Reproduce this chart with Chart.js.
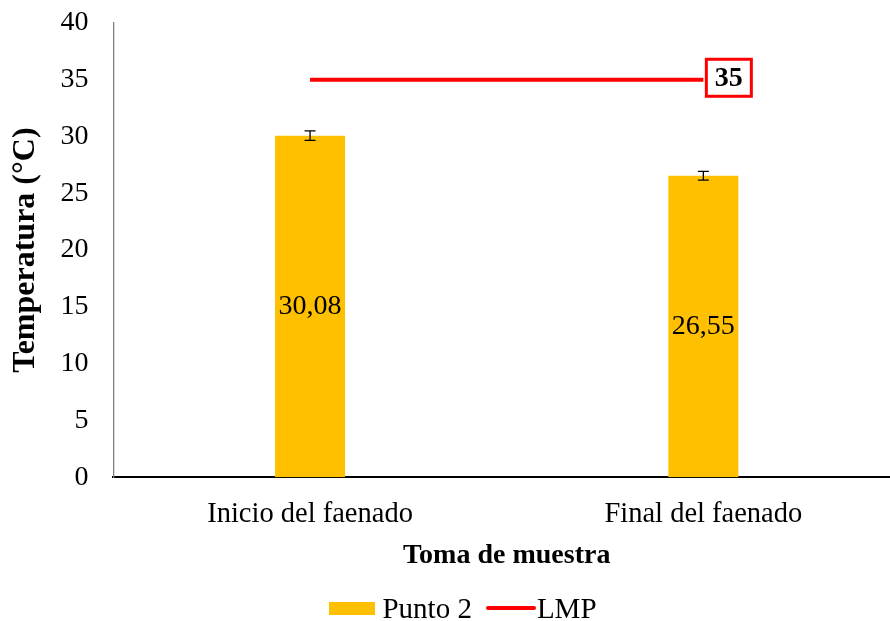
<!DOCTYPE html>
<html>
<head>
<meta charset="utf-8">
<script src="https://cdn.jsdelivr.net/npm/chart.js@4.4.1/dist/chart.umd.min.js"></script>
<style>
    body { margin: 0; background: #ffffff; overflow: hidden; }
    #wrap { position: relative; width: 890px; height: 621px; overflow: hidden; }
    #legend {
        position: absolute; left: 0; top: 590px; width: 926px;
        display: flex; justify-content: center; align-items: center;
        font-family: 'Liberation Serif', 'Times New Roman', serif; font-size: 29px; color: #000;
        line-height: 36px;
    }
    .legend-item { display: flex; align-items: center; margin: 0 7px; }
    .legend-mark { margin-right: 7px; }
</style>
</head>
<body>
<div id="wrap">
    <canvas id="tempChart" width="900" height="621"></canvas>
    <div id="legend"></div>
</div>
<script>
const categories = ['Inicio del faenado', 'Final del faenado'];
const punto2 = [30.08, 26.55];
const punto2Err = [0.42, 0.38];
const lmp = [35, 35];
const yTicks = [0, 5, 10, 15, 20, 25, 30, 35, 40];

const serif = "'Liberation Serif', 'Times New Roman', serif";

// barras de error
const errorBars = {
    id: 'errorBars',
    afterDatasetsDraw(chart) {
        const ctx = chart.ctx;
        const y = chart.scales.y;
        const meta = chart.getDatasetMeta(0);
        ctx.save();
        ctx.strokeStyle = '#000000';
        ctx.lineWidth = 1.3;
        meta.data.forEach((bar, i) => {
            const top = y.getPixelForValue(punto2[i] + punto2Err[i]);
            const bottom = y.getPixelForValue(punto2[i] - punto2Err[i]);
            ctx.beginPath();
            ctx.moveTo(bar.x, top);
            ctx.lineTo(bar.x, bottom);
            ctx.moveTo(bar.x - 5.5, top);
            ctx.lineTo(bar.x + 5.5, top);
            ctx.moveTo(bar.x - 5.5, bottom);
            ctx.lineTo(bar.x + 5.5, bottom);
            ctx.stroke();
        });
        ctx.restore();
    }
};

// etiquetas de valor dentro de las barras y caja del LMP
const valueLabels = {
    id: 'valueLabels',
    afterDatasetsDraw(chart) {
        const ctx = chart.ctx;
        ctx.save();
        ctx.fillStyle = '#000000';
        ctx.textAlign = 'center';
        ctx.textBaseline = 'middle';
        ctx.font = '28px ' + serif;
        chart.getDatasetMeta(0).data.forEach((bar, i) => {
            const txt = punto2[i].toFixed(2).replace('.', ',');
            ctx.fillText(txt, bar.x, (bar.y + bar.base) / 2);
        });

        const pts = chart.getDatasetMeta(1).data;
        const last = pts[pts.length - 1];
        const bx = last.x + 3, bw = 45, bh = 37;
        const by = last.y - bh / 2 - 2;
        ctx.fillStyle = '#ffffff';
        ctx.fillRect(bx, by, bw, bh);
        ctx.strokeStyle = '#FF0000';
        ctx.lineWidth = 3;
        ctx.strokeRect(bx, by, bw, bh);
        ctx.fillStyle = '#000000';
        ctx.font = 'bold 28px ' + serif;
        ctx.fillText(String(lmp[lmp.length - 1]), bx + bw / 2, by + bh / 2 + 1);
        ctx.restore();
    }
};

const chart = new Chart(document.getElementById('tempChart').getContext('2d'), {
    data: {
        labels: categories,
        datasets: [{
            type: 'bar',
            label: 'Punto 2',
            data: punto2,
            backgroundColor: '#FFC000',
            borderWidth: 0,
            barPercentage: 0.178,
            categoryPercentage: 1
        }, {
            type: 'line',
            label: 'LMP',
            data: lmp,
            borderColor: '#FF0000',
            backgroundColor: '#FF0000',
            borderWidth: 4,
            pointRadius: 0
        }]
    },
    options: {
        responsive: false,
        animation: false,
        layout: { padding: { left: -1, right: 0, top: 0, bottom: 28 } },
        plugins: {
            tooltip: { enabled: false },
            legend: { display: false }
        },
        scales: {
            x: {
                grid: { display: false, drawTicks: false },
                border: { color: '#000000', width: 2 },
                ticks: { color: '#000000', padding: 20, font: { family: serif, size: 28.5 } },
                title: {
                    display: true,
                    text: 'Toma de muestra',
                    color: '#000000',
                    padding: { top: -12, bottom: 20 },
                    font: { family: serif, size: 28, weight: 'bold' }
                }
            },
            y: {
                min: 0,
                max: 40,
                grid: { display: false, drawTicks: false },
                border: { color: '#808080', width: 1.3 },
                afterBuildTicks: axis => { axis.ticks = yTicks.map(v => ({ value: v })); },
                afterFit: axis => { axis.paddingTop = 23; },
                ticks: { color: '#000000', padding: 25, font: { family: serif, size: 28 } },
                title: {
                    display: true,
                    text: 'Temperatura (°C)',
                    color: '#000000',
                    padding: { top: 8, bottom: -10 },
                    font: { family: serif, size: 32, weight: 'bold' }
                }
            }
        }
    },
    plugins: [errorBars, valueLabels]
});

// leyenda en HTML
const legend = document.getElementById('legend');
chart.data.datasets.forEach(ds => {
    const item = document.createElement('div');
    item.className = 'legend-item';
    const mark = document.createElement('span');
    mark.className = 'legend-mark';
    if (ds.type === 'bar') {
        mark.style.cssText = 'display:inline-block;width:46px;height:13px;background:' + ds.backgroundColor;
    } else {
        mark.style.cssText = 'display:inline-block;width:50px;height:4px;border-radius:2px;margin-right:1px;background:' + ds.borderColor;
    }
    item.appendChild(mark);
    item.appendChild(document.createTextNode(ds.label));
    legend.appendChild(item);
});
</script>
</body>
</html>
